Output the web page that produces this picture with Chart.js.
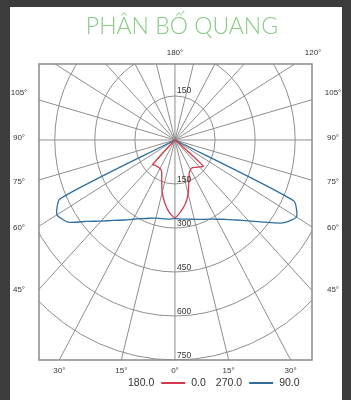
<!DOCTYPE html>
<html>
<head>
<meta charset="utf-8">
<script src="https://cdn.jsdelivr.net/npm/chart.js@4.4.1/dist/chart.umd.min.js"></script>
<style>
  html, body { margin: 0; padding: 0; background: #3c3c3c; }
  #wrap { position: relative; width: 351px; height: 400px; overflow: hidden; }
  #panel { position: absolute; left: 10px; top: 7px; width: 332px; height: 393px; background: #ffffff; }
  #c { position: absolute; left: 0; top: 0; }
</style>
</head>
<body>
<div id="wrap">
  <div id="panel"></div>
  <canvas id="c" width="351" height="400"></canvas>
</div>
<script>
// Gamma angles (degrees from nadir) at which intensities are tabulated
const gammaDeg = [0, 5, 10, 15, 20, 25, 30, 35, 40, 45, 50, 55, 60, 65, 70, 75, 80, 85, 90];

// Luminous intensity (cd/klm) in each C-plane
const c0   = [265, 245, 222, 190, 152, 126, 116, 115, 122, 130, 138, 8, 0, 0, 0, 0, 0, 0, 0];
const c180 = [265, 248, 218, 185, 145, 118, 112, 112, 113, 118, 8, 0, 0, 0, 0, 0, 0, 0, 0];
const c90  = [268, 271, 274, 280, 288, 298, 312, 330, 356, 390, 436, 493, 525, 490, 0, 0, 0, 0, 0];
const c270 = [268, 271, 272, 276, 284, 296, 312, 333, 358, 391, 432, 488, 510, 475, 0, 0, 0, 0, 0];

// Grid rings and their labels
const ringValues = [150, 300, 450, 600, 750];

// Angle tick labels around the frame
const bottomAngles = [30, 15, 0, 15, 30];
const sideAngles = [105, 90, 75, 60, 45];
const topAngles = [180, 120];

// Legend entries: [left plane, right plane]
const legendPairs = [['180.0', '0.0'], ['270.0', '90.0']];

const titleText = 'PHÂN BỐ QUANG';
const redColor = '#d23a4c';
const blueColor = '#2f6e9e';

// Build one closed polar curve: left half-plane (negative x) then right half-plane
function planeCurve(leftVals, rightVals) {
  const pts = [];
  for (let i = gammaDeg.length - 1; i >= 0; i--) {
    const t = gammaDeg[i] * Math.PI / 180;
    pts.push({ x: -leftVals[i] * Math.sin(t), y: -leftVals[i] * Math.cos(t) });
  }
  for (let i = 1; i < gammaDeg.length; i++) {
    const t = gammaDeg[i] * Math.PI / 180;
    pts.push({ x: rightVals[i] * Math.sin(t), y: -rightVals[i] * Math.cos(t) });
  }
  return pts;
}

const FONT = '"Liberation Sans", Arial, sans-serif';

const polarGrid = {
  id: 'polarGrid',
  beforeDatasetsDraw(chart) {
    const { ctx, chartArea: a, scales: { x, y } } = chart;
    const cx = x.getPixelForValue(0), cy = y.getPixelForValue(0);
    ctx.save();
    ctx.beginPath();
    ctx.rect(a.left, a.top, a.right - a.left, a.bottom - a.top);
    ctx.clip();
    ctx.strokeStyle = '#8e8e8e';
    ctx.lineWidth = 1;
    ringValues.forEach(r => {
      const rx = x.getPixelForValue(r) - cx;
      const ry = cy - y.getPixelForValue(r);
      ctx.beginPath();
      ctx.ellipse(cx, cy, rx, ry, 0, 0, Math.PI * 2);
      ctx.stroke();
    });
    for (let deg = 0; deg < 360; deg += 15) {
      const t = deg * Math.PI / 180, R = 4000;
      ctx.beginPath();
      ctx.moveTo(cx, cy);
      ctx.lineTo(x.getPixelForValue(R * Math.sin(t)), y.getPixelForValue(-R * Math.cos(t)));
      ctx.stroke();
    }
    ctx.restore();
  },
  afterDatasetsDraw(chart) {
    const { ctx, chartArea: a, scales: { x, y } } = chart;
    const cx = x.getPixelForValue(0), cy = y.getPixelForValue(0);
    ctx.save();
    // frame
    ctx.strokeStyle = '#8a8a8a';
    ctx.lineWidth = 1.5;
    ctx.strokeRect(a.left, a.top, a.right - a.left, a.bottom - a.top);

    // ring labels
    ctx.fillStyle = '#333';
    ctx.font = '8.5px ' + FONT;
    ctx.textAlign = 'left';
    ctx.textBaseline = 'alphabetic';
    ringValues.forEach(r => {
      ctx.fillText(String(r), cx + 2, y.getPixelForValue(-r) - 2);
      if (r <= y.max) ctx.fillText(String(r), cx + 2, y.getPixelForValue(r) - 3);
    });

    // angle labels
    ctx.font = '8px ' + FONT;
    ctx.textAlign = 'center';
    ctx.textBaseline = 'middle';
    const ymin = y.min;
    bottomAngles.forEach((deg, i) => {
      const sign = i < 2 ? -1 : 1;
      const px = x.getPixelForValue(sign * -ymin * Math.tan(deg * Math.PI / 180));
      ctx.fillText(deg + '°', px, a.bottom + 11);
    });
    const sideY = [93, 138, 182, 228, 290];
    sideAngles.forEach((deg, i) => {
      ctx.fillText(deg + '°', a.left - 20, sideY[i]);
      ctx.fillText(deg + '°', a.right + 21, sideY[i]);
    });
    ctx.fillText(topAngles[0] + '°', cx, a.top - 11);
    ctx.fillText(topAngles[1] + '°', a.right + 1, a.top - 11);

    // title
    ctx.font = '300 23px Lato, ' + FONT;
    ctx.fillStyle = '#86cc82';
    ctx.textAlign = 'center';
    ctx.textBaseline = 'alphabetic';
    ctx.fillText(titleText, 182, 34);

    // legend
    ctx.font = '10.5px ' + FONT;
    ctx.fillStyle = '#333';
    ctx.textBaseline = 'middle';
    ctx.textAlign = 'left';
    const ly = 383;
    let lx = 128;
    const colors = [redColor, blueColor];
    legendPairs.forEach((pair, i) => {
      ctx.fillText(pair[0], lx, ly);
      lx += ctx.measureText(pair[0]).width + 7;
      ctx.strokeStyle = colors[i];
      ctx.lineWidth = 2;
      ctx.beginPath();
      ctx.moveTo(lx, ly);
      ctx.lineTo(lx + 24, ly);
      ctx.stroke();
      lx += 24 + 6;
      ctx.fillText(pair[1], lx, ly);
      lx += ctx.measureText(pair[1]).width + 10;
    });
    ctx.restore();
  }
};

new Chart(document.getElementById('c'), {
  type: 'scatter',
  data: {
    datasets: [
      {
        label: '180.0 - 0.0',
        data: planeCurve(c180, c0),
        showLine: true,
        borderColor: redColor,
        borderWidth: 1.3,
        pointRadius: 0,
        tension: 0.2,
        fill: false
      },
      {
        label: '270.0 - 90.0',
        data: planeCurve(c270, c90),
        showLine: true,
        borderColor: blueColor,
        borderWidth: 1.3,
        pointRadius: 0,
        tension: 0.2,
        fill: false
      }
    ]
  },
  options: {
    responsive: false,
    animation: false,
    layout: { padding: { left: 39, top: 64, right: 39, bottom: 40 } },
    scales: {
      x: { type: 'linear', min: -509, max: 513, display: false },
      y: { type: 'linear', min: -750, max: 259, display: false }
    },
    plugins: {
      legend: { display: false },
      title: { display: false },
      tooltip: { enabled: false }
    }
  },
  plugins: [polarGrid]
});
</script>
</body>
</html>
